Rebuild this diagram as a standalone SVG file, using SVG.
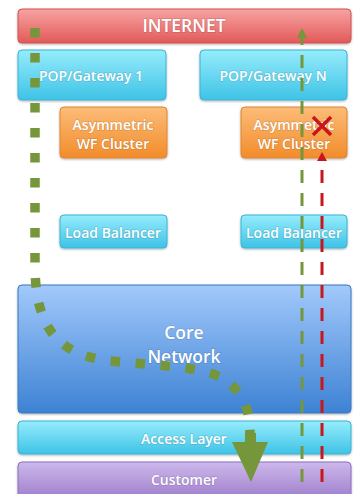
<svg xmlns="http://www.w3.org/2000/svg" width="357" height="494" viewBox="0 0 357 494">
<defs>
<linearGradient id="gRed" x1="0" y1="0" x2="0" y2="1"><stop offset="0" stop-color="#f7a3a3"/><stop offset="1" stop-color="#e25a58"/></linearGradient>
<linearGradient id="gCyan" x1="0" y1="0" x2="0" y2="1"><stop offset="0" stop-color="#96ecfc"/><stop offset="1" stop-color="#3ec3e6"/></linearGradient>
<linearGradient id="gOrange" x1="0" y1="0" x2="0" y2="1"><stop offset="0" stop-color="#fcbc78"/><stop offset="1" stop-color="#f28c2b"/></linearGradient>
<linearGradient id="gBlue" x1="0" y1="0" x2="0" y2="1"><stop offset="0" stop-color="#a2c9fb"/><stop offset="1" stop-color="#3d82d4"/></linearGradient>
<linearGradient id="gPurple" x1="0" y1="0" x2="0" y2="1"><stop offset="0" stop-color="#cdb9ec"/><stop offset="1" stop-color="#9a78c8"/></linearGradient>
<filter id="sh" x="-5%" y="-5%" width="110%" height="120%"><feDropShadow dx="0" dy="1" stdDeviation="0.8" flood-color="#000" flood-opacity="0.3"/></filter>
</defs>
<style>
.box{stroke-width:1;filter:url(#sh)}
.red{fill:url(#gRed);stroke:#d05050}
.cyan{fill:url(#gCyan);stroke:#3ab3d4}
.orange{fill:url(#gOrange);stroke:#e08432}
.blue{fill:url(#gBlue);stroke:#3a78c0}
.purple{fill:url(#gPurple);stroke:#8c6ebc}
.t{font-family:"Open Sans","Liberation Sans",sans-serif;font-weight:600;font-size:14px;fill:#fff;text-anchor:middle;paint-order:stroke;stroke:rgba(0,0,0,0.12);stroke-width:1.5px}
.big{font-size:17.5px}
</style>
<g id="internet"><rect class="box red" x="18" y="9" width="333" height="34" rx="4"/><text class="t big" x="184" y="32">INTERNET</text></g>
<g id="pop1"><rect class="box cyan" x="18" y="50" width="148" height="50" rx="4"/><text class="t" x="91" y="81">POP/Gateway 1</text></g>
<g id="popN"><rect class="box cyan" x="200" y="50" width="147" height="50" rx="4"/><text class="t" x="273" y="81">POP/Gateway N</text></g>
<g id="wf1"><rect class="box orange" x="60" y="107" width="107" height="51" rx="4"/><text class="t" x="113" y="130">Asymmetric</text><text class="t" x="113" y="149">WF Cluster</text></g>
<g id="wfN"><rect class="box orange" x="241" y="107" width="106" height="51" rx="4"/><text class="t" x="294" y="130">Asymmetric</text><text class="t" x="294" y="149">WF Cluster</text></g>
<g id="lb1"><rect class="box cyan" x="60" y="215" width="107" height="33" rx="4"/><text class="t" x="113" y="238">Load Balancer</text></g>
<g id="lbN"><rect class="box cyan" x="241" y="215" width="106" height="33" rx="4"/><text class="t" x="294" y="238">Load Balancer</text></g>
<g id="core"><rect class="box blue" x="18" y="285" width="333" height="128" rx="4"/><text class="t big" x="184" y="339">Core</text><text class="t big" x="184" y="363">Network</text></g>
<g id="access"><rect class="box cyan" x="18" y="421" width="333" height="33" rx="4"/><text class="t" x="184" y="444">Access Layer</text></g>
<g id="customer"><rect class="box purple" x="18" y="462" width="333" height="40" rx="4"/><text class="t" x="184" y="485">Customer</text></g>
<g id="connectors">
<path d="M35,28 L35,265 C35,330 60,355 110,361 C160,366 205,366 225,380 C245,394 250,410 250,437" fill="none" stroke="#75963a" stroke-width="9.5" stroke-dasharray="9.5,15.5"/>
<rect x="245" y="433" width="11" height="10" fill="#75963a"/>
<polygon points="232,442 268,442 251,482" fill="#75963a"/>
<line x1="302" y1="482" x2="302" y2="36" stroke="#75963a" stroke-width="3" stroke-dasharray="13,10"/>
<polygon points="297,38 307,38 302,28" fill="#75963a"/>
<line x1="322" y1="482" x2="322" y2="160" stroke="#c8161c" stroke-width="3" stroke-dasharray="13,10"/>
<polygon points="317,161 327,161 322,152" fill="#c8161c"/>
<path d="M313,117 L331,135 M331,117 L313,135" stroke="#c8161c" stroke-width="3.5" fill="none"/>
</g>
</svg>
